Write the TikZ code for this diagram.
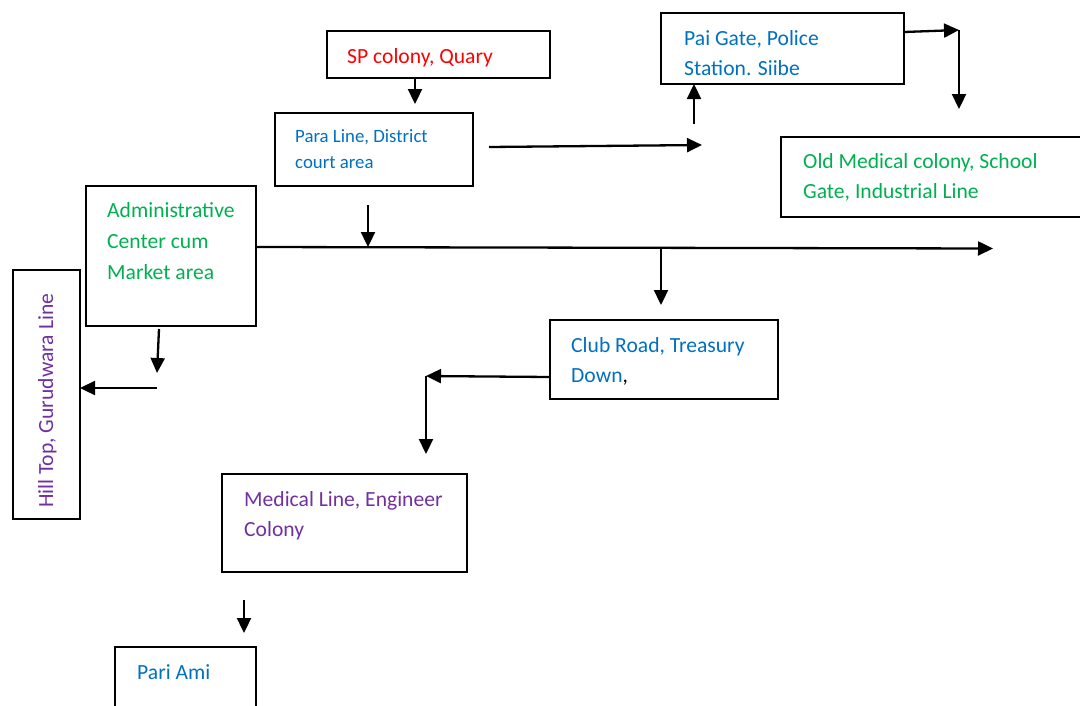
\documentclass[tikz,border=0pt]{standalone}
\usepackage{fontspec}
\setmainfont{Carlito}
\usetikzlibrary{arrows.meta}
\definecolor{wblue}{RGB}{0,112,192}
\definecolor{wgreen}{RGB}{0,176,80}
\definecolor{wpurple}{RGB}{112,48,160}
\definecolor{wred}{RGB}{255,0,0}
\begin{document}
\begin{tikzpicture}[x=1pt,y=-1pt,
 box/.style={draw=black,line width=2pt,anchor=north west,inner sep=0pt,outer sep=0pt},
 lbl/.style={anchor=base west,inner sep=0pt,align=left,font=\fontsize{21.6}{30}\selectfont},
 small/.style={font=\fontsize{18.8}{26}\selectfont},
 arr/.style={line width=2.3pt,-{Triangle[length=15pt,width=14pt]}}]
\useasboundingbox (0,0) rectangle (1080,705);
% boxes
\node[box,minimum width=223pt,minimum height=47pt] (sp) at (327,31) {};
\node[box,minimum width=198pt,minimum height=73pt] (para) at (275,113) {};
\node[box,minimum width=243pt,minimum height=71pt] (pai) at (661,13) {};
\node[box,minimum width=300pt,minimum height=80pt] (old) at (781,137) {};
\node[box,minimum width=170pt,minimum height=140pt] (admin) at (86,186) {};
\node[box,minimum width=67pt,minimum height=249pt] (hill) at (13,270) {};
\node[box,minimum width=228pt,minimum height=79pt] (club) at (550,320) {};
\node[box,minimum width=245pt,minimum height=98pt] (med) at (222,474) {};
\node[box,minimum width=141pt,minimum height=72pt] (pari) at (115,647) {};
% texts (base anchor = baseline of the last line)
\node[lbl,text=wred] (spt) at (347,63) {SP colony, Quary};
\node[lbl,small,text=wblue] (parat) at (295,168) {Para Line, District\\court area};
\node[lbl,text=wblue] (pait) at (684,75) {Pai Gate, Police\\Station. Siibe};
\node[lbl,text=wgreen] (oldt) at (803,198) {Old Medical colony, School\\Gate, Industrial Line};
\node[lbl,text=wgreen,font=\fontsize{21.6}{31}\selectfont] (admint) at (107,279) {Administrative\\Center cum\\Market area};
\node[lbl,text=wpurple,rotate=90] (hillt) at (53,508) {Hill Top, Gurudwara Line};
\node[lbl,text=wblue] (clubt) at (571,382) {Club Road, Treasury\\Down\textcolor{black}{,}};
\node[lbl,text=wpurple] (medt) at (244,536) {Medical Line, Engineer\\Colony};
\node[lbl,text=wblue] (parit) at (137,679) {Pari Ami};
% connectors
\coordinate (a1) at (415,104);
\draw[arr] (sp.south -| a1) -- (a1);
\coordinate (b1) at (489,147);
\coordinate (b2) at (702,145);
\draw[arr] (b1) -- (b2);
\coordinate (c1) at (694,124);
\draw[arr] (c1) -- (c1 |- pai.south);
\coordinate (d1) at (959,30);
\coordinate (d2) at (959,109);
\draw[arr] ([yshift=-19pt]pai.north east) -- (d1);
\draw[arr] (d1) -- (d2);
\coordinate (e1) at (368,205);
\coordinate (e2) at (368,247);
\draw[arr] (e1) -- (e2);
\coordinate (f1) at (993,248.5);
\draw[arr] ([yshift=-61pt]admin.north east) -- (f1);
\coordinate (g1) at (661,248);
\coordinate (g2) at (661,305);
\draw[arr] (g1) -- (g2);
\coordinate (h1) at (159,329);
\coordinate (h2) at (157,373);
\draw[arr] (h1) -- (h2);
\coordinate (i1) at (157,388);
\draw[arr] (i1) -- (i1 -| hill.east);
\coordinate (j1) at (426,376);
\coordinate (j2) at (426,454);
\draw[arr] ([yshift=-57pt]club.north west) -- (j1);
\draw[arr] (j1) -- (j2);
\coordinate (k1) at (244,600);
\coordinate (k2) at (244,633);
\draw[arr] (k1) -- (k2);
\end{tikzpicture}
\end{document}
